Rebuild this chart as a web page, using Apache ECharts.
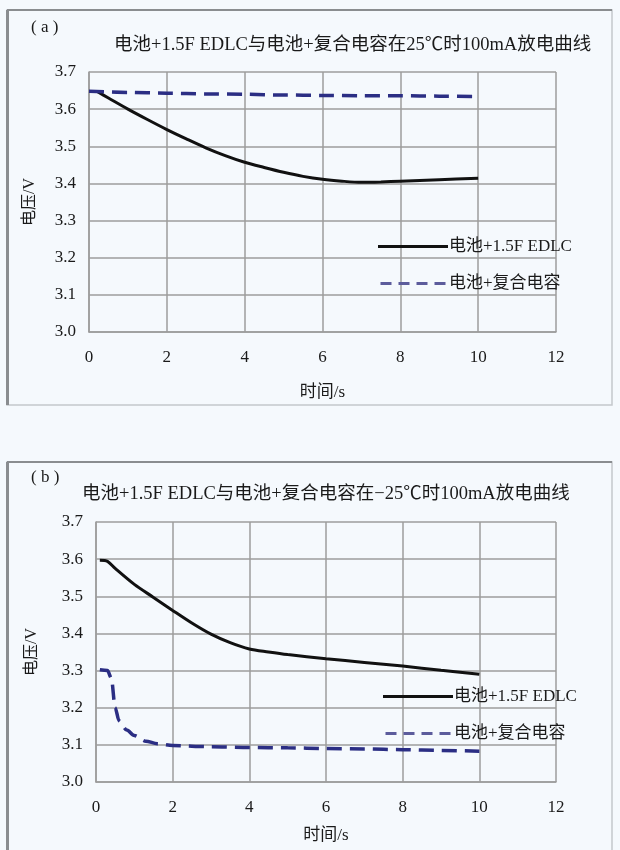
<!DOCTYPE html>
<html>
<head>
<meta charset="utf-8">
<script src="https://cdn.jsdelivr.net/npm/echarts@6/dist/echarts.min.js"></script>
<style>
html,body{margin:0;padding:0;background:#f5f9fd;}
#c{width:620px;height:850px;}
</style>
</head>
<body>
<div id="c"></div>
<script>
// ---- Data ----
const seriesNames = ['电池+1.5F EDLC', '电池+复合电容'];
const titleA = '电池+1.5F EDLC与电池+复合电容在25℃时100mA放电曲线';
const titleB = '电池+1.5F EDLC与电池+复合电容在−25℃时100mA放电曲线';
const panelLabels = ['( a )', '( b )'];
const xTicks = [0, 2, 4, 6, 8, 10, 12];
const yTicks = [3.0, 3.1, 3.2, 3.3, 3.4, 3.5, 3.6, 3.7];

// Panel (a): 25℃
const tA_edlc = [0.2, 0.5, 1, 1.5, 2, 2.5, 3, 3.5, 4, 4.5, 5, 5.5, 6, 6.5, 7, 7.5, 8, 9, 10];
const vA_edlc = [3.648, 3.63, 3.60, 3.572, 3.545, 3.52, 3.496, 3.475, 3.457, 3.443, 3.43, 3.419, 3.411, 3.406, 3.403, 3.404, 3.406, 3.41, 3.414];
const tA_comp = [0, 1, 2, 3, 4, 5, 6, 7, 8, 9, 10];
const vA_comp = [3.648, 3.645, 3.643, 3.641, 3.64, 3.638, 3.637, 3.636, 3.636, 3.635, 3.634];

// Panel (b): -25℃
const tB_edlc = [0.1, 0.3, 0.5, 1, 1.5, 2, 2.5, 3, 3.5, 4, 4.5, 5, 6, 7, 8, 9, 10];
const vB_edlc = [3.597, 3.594, 3.575, 3.532, 3.497, 3.462, 3.428, 3.398, 3.375, 3.358, 3.35, 3.343, 3.332, 3.322, 3.312, 3.301, 3.29];
const tB_comp = [0.1, 0.3, 0.4, 0.5, 0.6, 0.8, 1, 1.3, 1.6, 2, 3, 4, 5, 6, 7, 8, 9, 10];
const vB_comp = [3.302, 3.30, 3.28, 3.20, 3.165, 3.14, 3.125, 3.11, 3.103, 3.098, 3.095, 3.093, 3.092, 3.09, 3.089, 3.087, 3.085, 3.083];

const pairs = (xs, ys) => xs.map((x, i) => [x, ys[i]]);

// ---- Styles ----
const FONT = "'Liberation Serif','Noto Sans CJK SC',serif";
const TXT = '#1a1a1a';
const GRIDC = '#9c9c9c';
const NAVY = '#2b2e84';

function xAxisFor(gi, gap) {
  return {
    type: 'value', gridIndex: gi, min: xTicks[0], max: xTicks[xTicks.length - 1], interval: 2,
    name: '时间/s', nameLocation: 'middle', nameGap: gap,
    nameTextStyle: { fontFamily: FONT, fontSize: 17, color: TXT },
    axisLine: { show: true, lineStyle: { color: GRIDC, width: 1.5 } },
    axisTick: { show: false },
    axisLabel: { fontFamily: FONT, fontSize: 17, color: TXT, margin: 17 },
    splitLine: { show: true, lineStyle: { color: GRIDC, width: 1.5 } }
  };
}
function yAxisFor(gi, gap) {
  return {
    type: 'value', gridIndex: gi, min: yTicks[0], max: yTicks[yTicks.length - 1], interval: 0.1,
    name: '电压/V', nameLocation: 'middle', nameGap: gap,
    nameTextStyle: { fontFamily: FONT, fontSize: 16, color: TXT },
    axisLine: { show: true, lineStyle: { color: GRIDC, width: 1.5 } },
    axisTick: { show: false },
    axisLabel: { fontFamily: FONT, fontSize: 17, color: TXT, margin: 13, formatter: v => v.toFixed(1) },
    splitLine: { show: true, lineStyle: { color: GRIDC, width: 1.5 } }
  };
}
function solid(name, gi, data) {
  return {
    type: 'line', name, xAxisIndex: gi, yAxisIndex: gi, data, symbol: 'none',
    smooth: 0.3, lineStyle: { color: '#111', width: 3 }, itemStyle: { color: '#111' }
  };
}
function dashed(name, gi, data) {
  return {
    type: 'line', name, xAxisIndex: gi, yAxisIndex: gi, data, symbol: 'none',
    smooth: 0.3, smoothMonotone: 'x',
    lineStyle: { color: NAVY, width: 3.5, type: [15, 8] }, itemStyle: { color: NAVY }
  };
}
const SOLID_ICON = 'path://M0,0H70V3H0Z';
const DASH_ICON = 'path://M0,0H11V3H0Z M18,0H29V3H18Z M36,0H47V3H36Z M54,0H65V3H54Z';
function legendAt(left, top) {
  return {
    orient: 'vertical', left, top, itemWidth: 70, itemHeight: 3, itemGap: 20,
    selectedMode: false,
    data: [
      { name: seriesNames[0], icon: SOLID_ICON, itemStyle: { color: '#111' } },
      { name: seriesNames[1], icon: DASH_ICON, itemStyle: { color: '#5c5c9c' } }
    ],
    textStyle: { fontFamily: FONT, fontSize: 17, color: TXT, padding: [0, 0, 0, -4] }
  };
}

const chart = echarts.init(document.getElementById('c'), null, { renderer: 'canvas' });
chart.setOption({
  backgroundColor: '#f5f9fd',
  animation: false,
  graphic: [
    { type: 'rect', shape: { x: 7, y: 10, width: 605, height: 395 }, style: { fill: 'none', stroke: '#c4c8cc', lineWidth: 1.5 } },
    { type: 'line', shape: { x1: 7.5, y1: 10, x2: 7.5, y2: 405 }, style: { stroke: '#8a8d90', lineWidth: 3 } },
    { type: 'line', shape: { x1: 7, y1: 10, x2: 612, y2: 10 }, style: { stroke: '#8a8d90', lineWidth: 2 } },
    { type: 'rect', shape: { x: 7, y: 462, width: 605, height: 400 }, style: { fill: 'none', stroke: '#c4c8cc', lineWidth: 1.5 } },
    { type: 'line', shape: { x1: 7.5, y1: 462, x2: 7.5, y2: 850 }, style: { stroke: '#8a8d90', lineWidth: 3 } },
    { type: 'line', shape: { x1: 7, y1: 462, x2: 612, y2: 462 }, style: { stroke: '#8a8d90', lineWidth: 2 } },
    { type: 'text', left: 31, top: 19, style: { text: panelLabels[0], font: "17px " + FONT, fill: TXT } },
    { type: 'text', left: 31, top: 469, style: { text: panelLabels[1], font: "17px " + FONT, fill: TXT } }
  ],
  title: [
    { text: titleA, left: 109, top: 31, textStyle: { fontFamily: FONT, fontSize: 18.5, fontWeight: 'normal', color: TXT } },
    { text: titleB, left: 77, top: 480, textStyle: { fontFamily: FONT, fontSize: 18.5, fontWeight: 'normal', color: TXT } }
  ],
  grid: [
    { left: 89, top: 72, width: 467, height: 260, show: false },
    { left: 96, top: 522, width: 460, height: 260, show: false }
  ],
  xAxis: [xAxisFor(0, 52), xAxisFor(1, 45)],
  yAxis: [yAxisFor(0, 51), yAxisFor(1, 56)],
  legend: [legendAt(373, 233), legendAt(378, 683)],
  series: [
    solid(seriesNames[0], 0, pairs(tA_edlc, vA_edlc)),
    dashed(seriesNames[1], 0, pairs(tA_comp, vA_comp)),
    solid(seriesNames[0], 1, pairs(tB_edlc, vB_edlc)),
    dashed(seriesNames[1], 1, pairs(tB_comp, vB_comp))
  ]
});
</script>
</body>
</html>
